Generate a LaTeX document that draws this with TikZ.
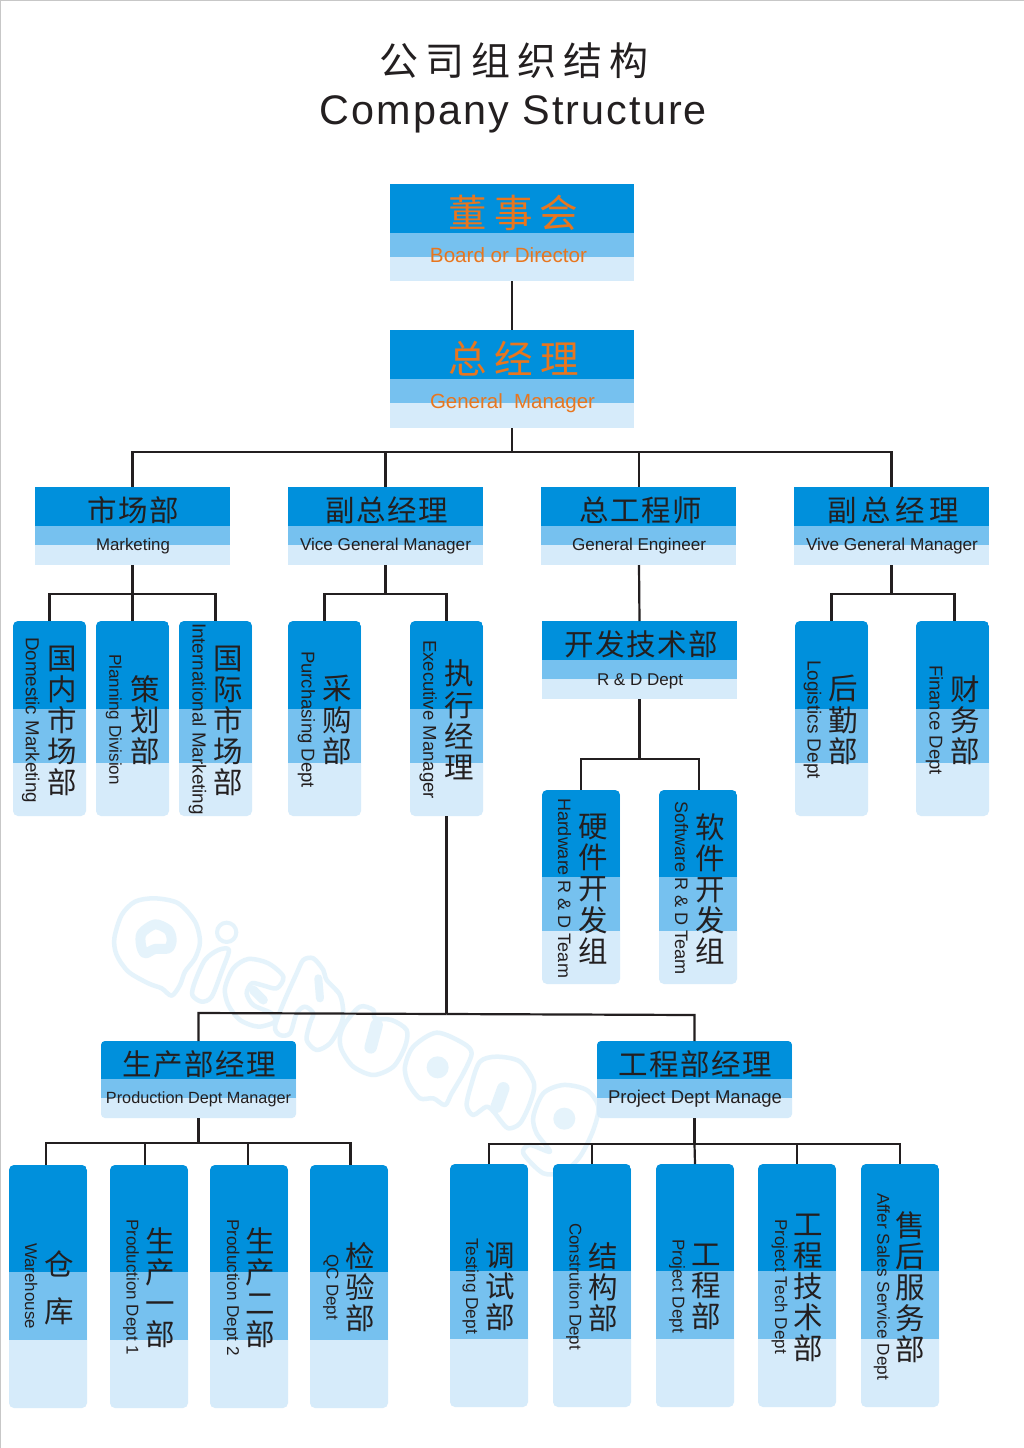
\documentclass[tikz,border=0pt]{standalone}
\usepackage{fontspec}
\usepackage{graphicx}
\usetikzlibrary{calc}
\setmainfont{Liberation Sans}
\newfontfamily\cjk{Noto Sans CJK SC}
\definecolor{bandA}{HTML}{0090DC}
\definecolor{bandB}{HTML}{76C1EF}
\definecolor{bandC}{HTML}{D6EBFA}
\definecolor{inkK}{HTML}{231F20}
\definecolor{inkO}{HTML}{E8761E}
\definecolor{wmark}{HTML}{E5F3FB}
\tikzset{
  tri/.style={rectangle,inner sep=0pt,outer sep=0pt,fill=bandC},
  conn/.style={draw=inkK,line width=2.2pt,line join=miter},
  lab/.style={inner sep=0pt,outer sep=0pt,text=inkK},
  wm/.style={draw=wmark,line width=4.5pt,line join=round},
  wms/.style={draw=wmark,line width=12.5pt,line cap=round},
}
% name, x1, x2, y1, y2, y3, y4, corner radius
\newcommand\tribox[8]{%
  \pgfmathsetmacro\fa{(#5-#4)/(#7-#4)}%
  \pgfmathsetmacro\fb{(#6-#4)/(#7-#4)}%
  \node[tri,rounded corners=#8pt,minimum width={(#3-#2)*1pt},minimum height={(#7-#4)*1pt},
    path picture={
      \fill[bandA,sharp corners] (path picture bounding box.north west) rectangle
        ($(path picture bounding box.north east)!\fa!(path picture bounding box.south east)$);
      \fill[bandB,sharp corners] ($(path picture bounding box.north west)!\fa!(path picture bounding box.south west)$) rectangle
        ($(path picture bounding box.north east)!\fb!(path picture bounding box.south east)$);
    }] (#1) at ({(#2+#3)/2},{(#4+#7)/2}) {};}
% name, baseline x, y start, y end, text
\newcommand\ve[5]{%
  \pgfmathsetlengthmacro\lablen{(#4-#3)*1pt}%
  \node[lab,anchor=base,rotate=-90] (#1) at (#2,{(#3+#4)/2})
    {\resizebox{\lablen}{!}{\fontsize{17}{20}\selectfont #5}};}
% name, x left, x right, baseline, colour, text
\newcommand\he[6]{%
  \pgfmathsetlengthmacro\lablen{(#3-#2)*1pt}%
  \node[lab,anchor=base,text=#5] (#1) at ({(#2+#3)/2},#4)
    {\resizebox{\lablen}{!}{\fontsize{17}{20}\selectfont #6}};}
% name, cx, cy, pitch, text with \\
\newcommand\zv[5]{%
  \node[lab,align=center,font=\cjk\fontsize{29.5}{#4}\selectfont] (#1) at (#2,#3) {#5};}
% name, cx, cy, size, letterspace, colour, text
\newcommand\zh[7]{%
  \node[lab,text=#6] (#1) at (#2,#3)
    {\cjk\fontsize{#4}{#4}\selectfont\addfontfeature{LetterSpace=#5}#7};}
\begin{document}
\begin{tikzpicture}[x=1pt,y=-1pt]
\useasboundingbox (0,0) rectangle (1024,1448);
\fill[white] (0,0) rectangle (1024,1448);
\fill[black!22] (0,0) rectangle (1.2,1448);
\fill[black!22] (0,0) rectangle (1024,1.2);
% watermark
\begin{scope}[shift={(105pt,-885pt)},x=0.3333pt,y=-0.3333pt]
\draw[wm] plot[smooth cycle] coordinates {(150,40)(220,55)(270,110)(285,170)(270,220)(240,260)(225,300)(200,332)(170,310)(130,295)(70,260)(35,210)(28,160)(50,90)(90,50)};
\draw[wm,line width=10pt] plot[smooth cycle] coordinates {(150,118)(190,135)(200,165)(190,190)(150,192)(120,205)(108,180)(110,145)};
\draw[wm,line width=4pt] (365,142) circle (29);
\draw[wm] plot[smooth cycle] coordinates {(340,195)(372,195)(350,260)(320,335)(290,350)(262,330)(270,290)(300,225)};
\draw[wm] plot[smooth cycle] coordinates {(430,222)(490,235)(535,275)(515,310)(470,300)(440,295)(425,325)(445,360)(500,385)(510,410)(460,425)(405,405)(370,360)(360,310)(385,250)};
\draw[wms,line width=9pt] (445,315) -- (475,345);
\end{scope}
\begin{scope}[shift={(100pt,-880pt)},x=0.3333pt,y=-0.3333pt]
\draw[wm] plot[smooth cycle] coordinates {(640,235)(670,270)(680,300)(720,345)(730,400)(720,440)(690,490)(650,510)(620,480)(630,430)(640,400)(615,380)(590,400)(570,460)(540,465)(525,440)(550,370)(590,280)(610,240)};
\draw[wms,line width=8pt] (655,295) -- (660,355);
\end{scope}
\begin{scope}[shift={(330pt,-990pt)},x=0.3333pt,y=-0.3333pt]
\draw[wm] plot[smooth cycle] coordinates {(45,100)(90,50)(130,60)(135,85)(185,90)(230,120)(225,170)(190,230)(130,255)(70,230)(35,180)(30,140)};
\draw[wms] (140,105) -- (122,172);
\draw[wm] plot[smooth cycle] coordinates {(320,128)(400,160)(425,190)(400,250)(365,310)(345,345)(310,325)(270,325)(235,280)(225,230)(250,170)};
\fill[wmark] (323,232) circle (33);
\draw[wm] plot[smooth cycle] coordinates {(500,200)(570,215)(612,280)(600,340)(570,400)(535,415)(510,390)(495,370)(470,350)(430,375)(410,345)(425,280)(450,215)};
\draw[wms] (520,295) -- (500,350);
\draw[wm] plot[smooth cycle] coordinates {(700,285)(770,300)(805,350)(790,420)(750,500)(700,545)(640,550)(580,490)(600,465)(660,485)(620,430)(610,380)(640,310)};
\fill[wmark] (703,386) circle (33);
\end{scope}
% title
\zh{title}{514}{61}{39}{18}{inkK}{公司组织结构}
\node[lab,anchor=base] (titleen) at (513.5,124.5) {\resizebox{387pt}{!}{\fontsize{41}{48}\selectfont\addfontfeature{LetterSpace=5}Company Structure}};
% top boxes
\tribox{board}{390}{634}{184}{233}{257}{281}{0}
\tribox{gm}{390}{634}{330}{379}{403}{428}{0}
% second row
\tribox{mkt}{35}{230}{487}{526}{545}{565}{0}
\tribox{vgma}{288}{483}{487}{526}{545}{565}{0}
\tribox{ge}{541}{736}{487}{526}{545}{565}{0}
\tribox{vgmb}{794}{989}{487}{526}{545}{565}{0}
% third row
\tribox{dom}{13}{86}{621}{709}{763}{816}{5}
\tribox{plan}{96}{169}{621}{709}{763}{816}{5}
\tribox{intl}{179}{252}{621}{709}{763}{816}{5}
\tribox{purch}{288}{361}{621}{709}{763}{816}{5}
\tribox{exec}{410}{483}{621}{709}{763}{816}{5}
\tribox{rd}{542}{737}{621}{660}{679}{699}{0}
\tribox{logi}{795}{868}{621}{709}{763}{816}{5}
\tribox{fin}{916}{989}{621}{709}{763}{816}{5}
\tribox{hw}{542}{620}{790}{877}{931}{984}{5}
\tribox{sw}{659}{737}{790}{877}{931}{984}{5}
% managers
\tribox{pm}{101}{296}{1041}{1079}{1098}{1118}{4}
\tribox{jm}{597}{792}{1041}{1079}{1098}{1118}{4}
% bottom row
\tribox{wh}{9}{87}{1165}{1272}{1340}{1408}{5}
\tribox{pa}{110}{188}{1165}{1272}{1340}{1408}{5}
\tribox{pb}{210}{288}{1165}{1272}{1340}{1408}{5}
\tribox{qc}{310}{388}{1165}{1272}{1340}{1408}{5}
\tribox{test}{450}{528}{1164}{1271}{1339}{1407}{5}
\tribox{cons}{553}{631}{1164}{1271}{1339}{1407}{5}
\tribox{proj}{656}{734}{1164}{1271}{1339}{1407}{5}
\tribox{tech}{758}{836}{1164}{1271}{1339}{1407}{5}
\tribox{sale}{861}{939}{1164}{1271}{1339}{1407}{5}
% connector junctions
\coordinate (jgm) at (512,452);
\coordinate (jmkt) at (132.5,594);
\coordinate (jvgma) at (385.5,594);
\coordinate (jrd) at (639.5,759);
\coordinate (jvgmb) at (891.5,594);
\coordinate (jex) at (446.5,1014);
\coordinate (jpm) at (198.5,1143);
\coordinate (jjm) at (694.5,1144);
\coordinate (bl) at (198.5,1013);
\coordinate (br) at (694.5,1015);
% connectors
\draw[conn] (board.south) -- (gm.north);
\draw[conn] (gm.south) -- (jgm);
\draw[conn] (jgm) -| (mkt.north);
\draw[conn] (jgm) -| (vgma.north);
\draw[conn] (jgm) -| ([xshift=0.5pt]ge.north);
\draw[conn] (jgm) -| (vgmb.north);
\draw[conn] (mkt.south) -- (jmkt);
\draw[conn] (jmkt) -| (dom.north);
\draw[conn] (jmkt) -- (plan.north);
\draw[conn] (jmkt) -| (intl.north);
\draw[conn] (vgma.south) -- (jvgma);
\draw[conn] (jvgma) -| (purch.north);
\draw[conn] (jvgma) -| (exec.north);
\draw[conn] ([xshift=0.5pt]ge.south) -- (rd.north);
\draw[conn] (rd.south) -- (jrd);
\draw[conn] (jrd) -| (hw.north);
\draw[conn] (jrd) -| ([xshift=1pt]sw.north);
\draw[conn] (vgmb.south) -- (jvgmb);
\draw[conn] (jvgmb) -| (logi.north);
\draw[conn] (jvgmb) -| ([xshift=2pt]fin.north);
\draw[conn] (exec.south) -- (jex);
\draw[conn] (jex) -- (bl) -- (pm.north);
\draw[conn] (jex) -- (br) -- (jm.north);
\draw[conn] (pm.south) -- (jpm);
\draw[conn] (jpm) -| ([xshift=-2pt]wh.north);
\draw[conn] (jpm) -| ([xshift=-4pt]pa.north);
\draw[conn] (jpm) -| ([xshift=-1pt]pb.north);
\draw[conn] (jpm) -| ([xshift=1.5pt]qc.north);
\draw[conn] (jm.south) -- (jjm);
\draw[conn] (jjm) -| (test.north);
\draw[conn] (jjm) -| (cons.north);
\draw[conn] (jjm) -- (proj.north);
\draw[conn] (jjm) -| (tech.north);
\draw[conn] (jjm) -| (sale.north);
% horizontal labels
\zh{boardzh}{513.5}{213}{38.5}{18}{inkO}{董事会}
\he{boarden}{430}{587}{262}{inkO}{Board or Director}
\zh{gmzh}{513.5}{359}{38.5}{20}{inkO}{总经理}
\he{gmen}{430}{595}{408}{inkO}{General\ \ Manager}
\zh{mktzh}{133.5}{510}{29.5}{5}{inkK}{市场部}
\he{mkten}{96}{170}{550.5}{inkK}{Marketing}
\zh{vgmazh}{386.5}{510}{29.5}{5}{inkK}{副总经理}
\he{vgmaen}{300}{471}{550.5}{inkK}{Vice General Manager}
\zh{gezh}{640.5}{510}{29.5}{5}{inkK}{总工程师}
\he{geen}{572}{706}{550.5}{inkK}{General Engineer}
\zh{vgmbzh}{893}{510}{29.5}{15}{inkK}{副总经理}
\he{vgmben}{806}{978}{550.5}{inkK}{Vive General Manager}
\zh{rdzh}{641}{644}{29.5}{5}{inkK}{开发技术部}
\he{rden}{597}{683}{685}{inkK}{R \& D Dept}
\zh{pmzh}{199}{1064}{29.5}{5}{inkK}{生产部经理}
\he{pmen}{106}{291}{1103.5}{inkK}{Production Dept Manager}
\zh{jmzh}{695.5}{1064}{29.5}{5}{inkK}{工程部经理}
\he{jmen}{608}{782}{1103.5}{inkK}{Project Dept Manage}
% vertical Chinese
\zv{domzh}{62}{721}{31.2}{国\\内\\市\\场\\部}
\zv{planzh}{145}{720}{31.2}{策\\划\\部}
\zv{intlzh}{228}{721}{31.2}{国\\际\\市\\场\\部}
\zv{purchzh}{337}{720}{31.2}{采\\购\\部}
\zv{execzh}{459}{720}{31.2}{执\\行\\经\\理}
\zv{logizh}{843}{720}{31.2}{后\\勤\\部}
\zv{finzh}{965}{720}{31.2}{财\\务\\部}
\zv{hwzh}{593}{889}{31.2}{硬\\件\\开\\发\\组}
\zv{swzh}{710}{889}{31.2}{软\\件\\开\\发\\组}
\zv{whzh}{59}{1288}{47}{仓\\库}
\zv{pazh}{160}{1288}{31}{生\\产\\一\\部}
\zv{pbzh}{260}{1288}{31}{生\\产\\二\\部}
\zv{qczh}{360}{1287}{31}{检\\验\\部}
\zv{testzh}{500}{1287}{31}{调\\试\\部}
\zv{conszh}{603}{1287}{31}{结\\构\\部}
\zv{projzh}{706}{1287}{31}{工\\程\\部}
\zv{techzh}{808}{1288}{31}{工\\程\\技\\术\\部}
\zv{salezh}{910}{1287}{31}{售\\后\\服\\务\\部}
% vertical English
\ve{domen}{26}{637}{803}{Domestic Marketing}
\ve{planen}{109.3}{654}{785}{Planning Division}
\ve{intlen}{192.7}{623}{815}{International Marketing}
\ve{purchen}{301.7}{651}{788}{Purchasing Dept}
\ve{execen}{423.3}{640}{799}{Executive Manager}
\ve{logien}{807.7}{660}{779}{Logistics Dept}
\ve{finen}{929.5}{665}{775}{Finance Dept}
\ve{hwen}{558}{798}{978}{Hardware R \& D Team}
\ve{swen}{675}{801}{975}{Software R \& D Team}
\ve{wen}{25}{1243}{1329}{Warehouse}
\ve{paen}{126.5}{1219}{1355}{Production Dept 1}
\ve{pben}{227}{1219}{1356}{Production Dept 2}
\ve{qcen}{326.5}{1254}{1320}{QC Dept}
\ve{testen}{466}{1238}{1334}{Testing Dept}
\ve{consen}{569.5}{1223}{1350}{Constrution Dept}
\ve{projen}{672.5}{1239}{1333}{Project Dept}
\ve{techen}{775}{1219}{1354}{Project Tech Dept}
\ve{saleen}{877.3}{1193}{1380}{Affer Sales Service Dept}
\end{tikzpicture}
\end{document}
